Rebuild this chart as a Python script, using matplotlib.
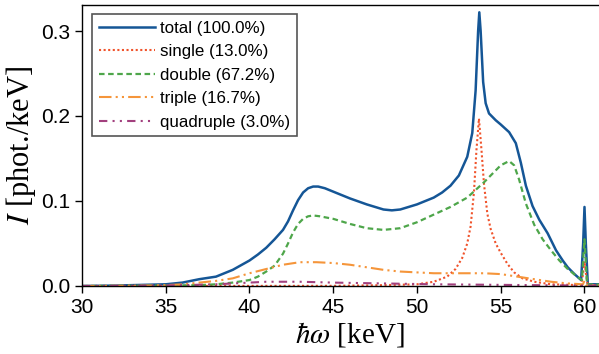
import matplotlib
matplotlib.use("Agg")
import matplotlib.pyplot as plt

# ---- data ----
total_x = [30, 32, 34, 35, 36, 37, 38, 39, 40, 40.5, 41, 41.5, 42, 42.3, 42.6, 42.9, 43.2, 43.5, 43.8, 44.1, 44.5, 45, 46, 47, 48, 48.5, 49, 50, 51, 51.5, 52, 52.5, 53, 53.3, 53.5, 53.65, 53.72, 53.8, 53.95, 54.1, 54.3, 54.7, 55, 55.5, 55.9, 56.2, 56.5, 56.9, 57.3, 57.8, 58.3, 58.7, 59.0, 59.4, 59.8, 59.92, 60.0, 60.08, 60.2, 62]
total_y = [0.0, 0.0005, 0.0015, 0.002, 0.004, 0.008, 0.011, 0.019, 0.030, 0.037, 0.045, 0.055, 0.066, 0.076, 0.089, 0.101, 0.110, 0.115, 0.117, 0.117, 0.115, 0.111, 0.103, 0.096, 0.090, 0.089, 0.090, 0.096, 0.104, 0.110, 0.118, 0.130, 0.152, 0.180, 0.230, 0.300, 0.322, 0.300, 0.240, 0.215, 0.203, 0.195, 0.190, 0.181, 0.168, 0.145, 0.118, 0.094, 0.078, 0.062, 0.042, 0.030, 0.022, 0.014, 0.007, 0.050, 0.093, 0.050, 0.002, 0.002]

single_x = [30, 45, 48, 50, 51, 51.8, 52.3, 52.7, 53.0, 53.2, 53.4, 53.55, 53.7, 53.85, 54.0, 54.2, 54.4, 54.7, 55.0, 55.4, 55.8, 56.3, 57, 58, 59.8, 59.92, 60.0, 60.08, 60.2, 62]
single_y = [0.0, 0.0002, 0.001, 0.002, 0.005, 0.011, 0.020, 0.033, 0.050, 0.070, 0.110, 0.160, 0.197, 0.160, 0.120, 0.085, 0.067, 0.050, 0.039, 0.026, 0.016, 0.009, 0.005, 0.002, 0.001, 0.015, 0.029, 0.015, 0.001, 0.0]

double_x = [30, 35, 36, 37, 38, 39, 40, 40.5, 41, 41.5, 42, 42.3, 42.6, 42.9, 43.2, 43.5, 43.8, 44.2, 45, 46, 47, 48, 49, 50, 51, 52, 53, 54, 55, 55.5, 55.8, 56.1, 56.5, 57, 57.5, 58, 58.5, 59, 59.5, 59.85, 60.0, 60.15, 62]
double_y = [0.0, 0.0005, 0.0008, 0.001, 0.002, 0.004, 0.007, 0.011, 0.017, 0.024, 0.038, 0.050, 0.063, 0.073, 0.079, 0.082, 0.083, 0.082, 0.079, 0.073, 0.068, 0.066, 0.068, 0.075, 0.084, 0.093, 0.104, 0.122, 0.142, 0.147, 0.142, 0.125, 0.097, 0.072, 0.055, 0.042, 0.030, 0.020, 0.012, 0.007, 0.055, 0.002, 0.001]

triple_x = [30, 34, 35, 36, 37, 38, 39, 40, 41, 42, 43, 44, 45, 46, 47, 48, 49, 50, 51, 52, 53, 54, 55, 56, 57, 58, 59, 59.9, 60.0, 60.1, 62]
triple_y = [0.0, 0.0005, 0.001, 0.002, 0.004, 0.006, 0.009, 0.015, 0.020, 0.025, 0.028, 0.028, 0.027, 0.025, 0.022, 0.019, 0.017, 0.016, 0.015, 0.015, 0.015, 0.015, 0.014, 0.011, 0.008, 0.005, 0.003, 0.002, 0.006, 0.001, 0.0]

quad_x = [30, 34, 36, 38, 39, 40, 41, 43, 45, 48, 51, 54, 57, 60, 62]
quad_y = [0.0, 0.0003, 0.001, 0.002, 0.003, 0.004, 0.005, 0.005, 0.004, 0.003, 0.002, 0.0015, 0.001, 0.0005, 0.0]

labels = ["total (100.0%)", "single (13.0%)", "double (67.2%)", "triple (16.7%)", "quadruple (3.0%)"]
x_ticks = [30, 35, 40, 45, 50, 55, 60]
y_ticks = [0.0, 0.1, 0.2, 0.3]

plt.rcParams['font.family'] = ['Liberation Sans', 'DejaVu Sans']
plt.rcParams['mathtext.fontset'] = 'stix'

fig = plt.figure(figsize=(5.99, 3.54), dpi=100)
# axes extends slightly past the right edge of the figure (cropped as in reference)
ax = fig.add_axes([0.1369, 0.1921, 0.8948, 0.7938])

ax.plot(total_x, total_y, color='#155696', lw=1.8, label=labels[0])
ax.plot(single_x, single_y, color='#f0532b', lw=1.5, linestyle=(0, (1, 1.2)), label=labels[1])
ax.plot(double_x, double_y, color='#4ea64a', lw=1.6, linestyle=(0, (2.5, 1.6)), label=labels[2])
ax.plot(triple_x, triple_y, color='#f5953a', lw=1.5, linestyle=(0, (6, 2, 1, 2, 1, 2)), label=labels[3])
ax.plot(quad_x, quad_y, color='#a2407e', lw=1.5, linestyle=(0, (4, 2.5, 1, 2.5, 1, 2.5)), label=labels[4])

ax.set_xlim(30, 62)
ax.set_ylim(0, 0.3306)
ax.set_xticks(x_ticks)
ax.set_yticks(y_ticks)
ax.set_xticklabels([str(t) for t in x_ticks])
ax.set_yticklabels(["%.1f" % t for t in y_ticks])
ax.tick_params(labelsize=15, direction='out', length=5, width=1)
for s in ['left', 'bottom', 'top', 'right']:
    ax.spines[s].set_linewidth(1.0)

ax.set_xlabel(r'$\hbar\omega$ [keV]', fontsize=21, family=['Liberation Serif'], labelpad=2)
ax.set_ylabel(r'$I$ [phot./keV]', fontsize=22, family=['Liberation Serif'], labelpad=2)

leg = ax.legend(loc='upper left', fontsize=12.2, frameon=True, fancybox=False,
                handlelength=3.3, handletextpad=0.3, labelspacing=0.5,
                borderpad=0.4, bbox_to_anchor=(0.0187, 0.968), borderaxespad=0)
leg.get_frame().set_edgecolor('#555555')
leg.get_frame().set_linewidth(1.2)
leg.get_frame().set_alpha(1)

fig.savefig('out.png', dpi=100)
